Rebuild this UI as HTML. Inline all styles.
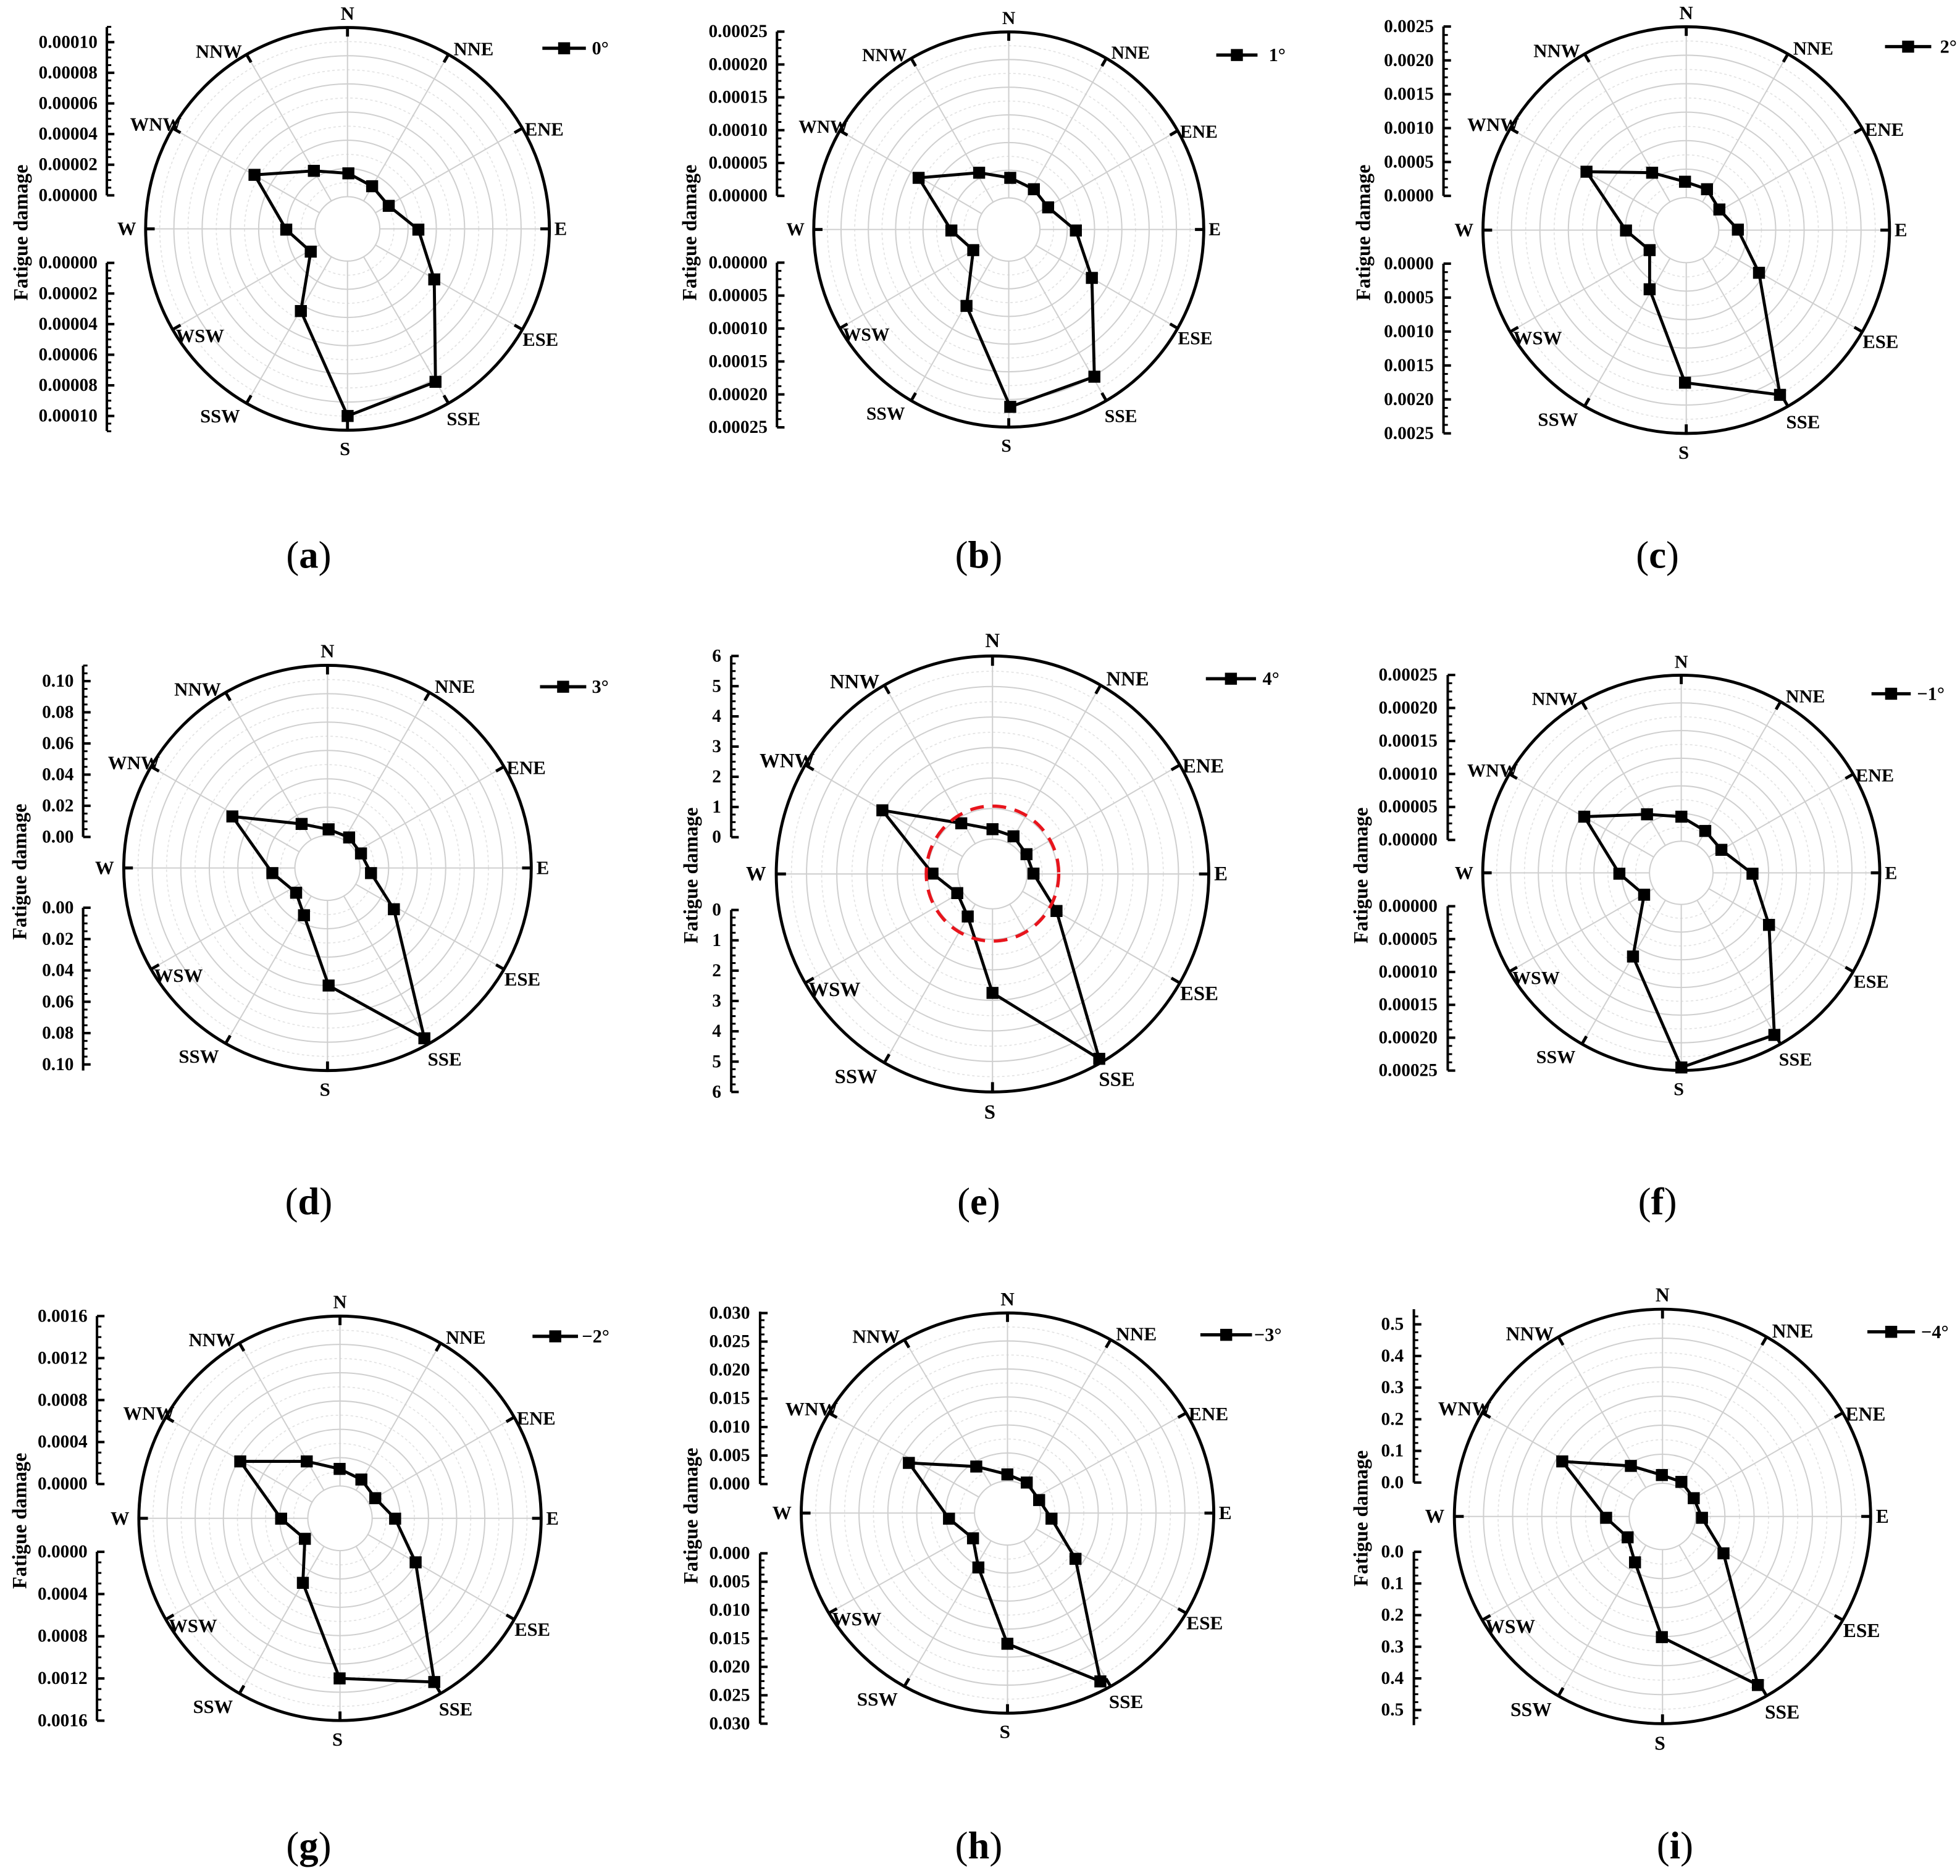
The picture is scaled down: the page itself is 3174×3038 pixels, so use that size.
<!DOCTYPE html>
<html><head><meta charset="utf-8">
<style>
html,body{margin:0;padding:0;background:#fff;}
svg{display:block;}
text{font-family:"Liberation Serif",serif;font-weight:bold;fill:#000;}
.dl text{font-size:15px;text-anchor:middle;dominant-baseline:central;}
.tk{font-size:14.5px;text-anchor:end;dominant-baseline:central;}
.lg{font-size:15px;dominant-baseline:central;}
.cap{font-size:31px;font-weight:normal;text-anchor:middle;}
.yl{font-size:16px;text-anchor:middle;dominant-baseline:central;}
</style></head>
<body>
<svg id="s" xmlns="http://www.w3.org/2000/svg" width="3174" height="3038" viewBox="0 0 1568 1500" preserveAspectRatio="none">
<rect width="1568" height="1500" fill="#fff"/>
<g id="geo"></g>

<!-- Direction labels -->
<g class="dl" transform="translate(278,183) scale(1.009,1.006)"><text x="0" y="-171">N</text><text x="100" y="-143">NNE</text><text x="156" y="-79">ENE</text><text x="169" y="0">E</text><text x="153" y="88">ESE</text><text x="92" y="151">SSE</text><text x="-2" y="175">S</text><text x="-101" y="149">SSW</text><text x="-117" y="85">WSW</text><text x="-175" y="0">W</text><text x="-152" y="-83">WNW</text><text x="-102" y="-141">NNW</text></g>
<g class="dl" transform="translate(807,183.5) scale(0.975,0.988)"><text x="0" y="-171">N</text><text x="100" y="-143">NNE</text><text x="156" y="-79">ENE</text><text x="169" y="0">E</text><text x="153" y="88">ESE</text><text x="92" y="151">SSE</text><text x="-2" y="175">S</text><text x="-101" y="149">SSW</text><text x="-117" y="85">WSW</text><text x="-175" y="0">W</text><text x="-152" y="-83">WNW</text><text x="-102" y="-141">NNW</text></g>
<g class="dl" transform="translate(1349,184) scale(1.016,1.016)"><text x="0" y="-171">N</text><text x="100" y="-143">NNE</text><text x="156" y="-79">ENE</text><text x="169" y="0">E</text><text x="153" y="88">ESE</text><text x="92" y="151">SSE</text><text x="-2" y="175">S</text><text x="-101" y="149">SSW</text><text x="-117" y="85">WSW</text><text x="-175" y="0">W</text><text x="-152" y="-83">WNW</text><text x="-102" y="-141">NNW</text></g>
<g class="dl" transform="translate(262,694) scale(1.019,1.013)"><text x="0" y="-171">N</text><text x="100" y="-143">NNE</text><text x="156" y="-79">ENE</text><text x="169" y="0">E</text><text x="153" y="88">ESE</text><text x="92" y="151">SSE</text><text x="-2" y="175">S</text><text x="-101" y="149">SSW</text><text x="-117" y="85">WSW</text><text x="-175" y="0">W</text><text x="-152" y="-83">WNW</text><text x="-102" y="-141">NNW</text></g>
<g class="dl" transform="translate(794,698.8) scale(1.081,1.089)"><text x="0" y="-171">N</text><text x="100" y="-143">NNE</text><text x="156" y="-79">ENE</text><text x="169" y="0">E</text><text x="153" y="88">ESE</text><text x="92" y="151">SSE</text><text x="-2" y="175">S</text><text x="-101" y="149">SSW</text><text x="-117" y="85">WSW</text><text x="-175" y="0">W</text><text x="-152" y="-83">WNW</text><text x="-102" y="-141">NNW</text></g>
<g class="dl" transform="translate(1345,697.9) scale(0.993,0.988)"><text x="0" y="-171">N</text><text x="100" y="-143">NNE</text><text x="156" y="-79">ENE</text><text x="169" y="0">E</text><text x="153" y="88">ESE</text><text x="92" y="151">SSE</text><text x="-2" y="175">S</text><text x="-101" y="149">SSW</text><text x="-117" y="85">WSW</text><text x="-175" y="0">W</text><text x="-152" y="-83">WNW</text><text x="-102" y="-141">NNW</text></g>
<g class="dl" transform="translate(272,1214) scale(1.006,1.011)"><text x="0" y="-171">N</text><text x="100" y="-143">NNE</text><text x="156" y="-79">ENE</text><text x="169" y="0">E</text><text x="153" y="88">ESE</text><text x="92" y="151">SSE</text><text x="-2" y="175">S</text><text x="-101" y="149">SSW</text><text x="-117" y="85">WSW</text><text x="-175" y="0">W</text><text x="-152" y="-83">WNW</text><text x="-102" y="-141">NNW</text></g>
<g class="dl" transform="translate(806,1209.8) scale(1.031,1.0)"><text x="0" y="-171">N</text><text x="100" y="-143">NNE</text><text x="156" y="-79">ENE</text><text x="169" y="0">E</text><text x="153" y="88">ESE</text><text x="92" y="151">SSE</text><text x="-2" y="175">S</text><text x="-101" y="149">SSW</text><text x="-117" y="85">WSW</text><text x="-175" y="0">W</text><text x="-152" y="-83">WNW</text><text x="-102" y="-141">NNW</text></g>
<g class="dl" transform="translate(1330,1212.5) scale(1.041,1.036)"><text x="0" y="-171">N</text><text x="100" y="-143">NNE</text><text x="156" y="-79">ENE</text><text x="169" y="0">E</text><text x="153" y="88">ESE</text><text x="92" y="151">SSE</text><text x="-2" y="175">S</text><text x="-101" y="149">SSW</text><text x="-117" y="85">WSW</text><text x="-175" y="0">W</text><text x="-152" y="-83">WNW</text><text x="-102" y="-141">NNW</text></g>

<!-- Tick labels -->
<g class="tk">
<!-- a -->
<text x="78" y="33.7">0.00010</text><text x="78" y="58.2">0.00008</text><text x="78" y="82.7">0.00006</text><text x="78" y="107.2">0.00004</text><text x="78" y="131.7">0.00002</text><text x="78" y="156.2">0.00000</text>
<text x="78" y="210.2">0.00000</text><text x="78" y="234.7">0.00002</text><text x="78" y="259.2">0.00004</text><text x="78" y="283.6">0.00006</text><text x="78" y="308.1">0.00008</text><text x="78" y="332.6">0.00010</text>
<!-- b -->
<text x="614" y="25.3">0.00025</text><text x="614" y="51.6">0.00020</text><text x="614" y="77.8">0.00015</text><text x="614" y="104.1">0.00010</text><text x="614" y="130.3">0.00005</text><text x="614" y="156.6">0.00000</text>
<text x="614" y="210">0.00000</text><text x="614" y="236.3">0.00005</text><text x="614" y="262.7">0.00010</text><text x="614" y="289">0.00015</text><text x="614" y="315.4">0.00020</text><text x="614" y="341.7">0.00025</text>
<!-- c -->
<text x="1147" y="21.2">0.0025</text><text x="1147" y="48.3">0.0020</text><text x="1147" y="75.4">0.0015</text><text x="1147" y="102.4">0.0010</text><text x="1147" y="129.5">0.0005</text><text x="1147" y="156.6">0.0000</text>
<text x="1147" y="210.8">0.0000</text><text x="1147" y="237.9">0.0005</text><text x="1147" y="265.1">0.0010</text><text x="1147" y="292.2">0.0015</text><text x="1147" y="319.4">0.0020</text><text x="1147" y="346.5">0.0025</text>
<!-- d -->
<text x="59" y="544.6">0.10</text><text x="59" y="569.5">0.08</text><text x="59" y="594.4">0.06</text><text x="59" y="619.4">0.04</text><text x="59" y="644.3">0.02</text><text x="59" y="669.2">0.00</text>
<text x="59" y="725.8">0.00</text><text x="59" y="750.9">0.02</text><text x="59" y="775.9">0.04</text><text x="59" y="801">0.06</text><text x="59" y="826">0.08</text><text x="59" y="851.1">0.10</text>
<!-- e -->
<text x="577" y="524.5">6</text><text x="577" y="548.7">5</text><text x="577" y="572.8">4</text><text x="577" y="597">3</text><text x="577" y="621.1">2</text><text x="577" y="645.3">1</text><text x="577" y="669.4">0</text>
<text x="577" y="727.6">0</text><text x="577" y="751.9">1</text><text x="577" y="776.1">2</text><text x="577" y="800.4">3</text><text x="577" y="824.6">4</text><text x="577" y="848.9">5</text><text x="577" y="873.1">6</text>
<!-- f -->
<text x="1150" y="539.7">0.00025</text><text x="1150" y="566.1">0.00020</text><text x="1150" y="592.5">0.00015</text><text x="1150" y="618.8">0.00010</text><text x="1150" y="645.2">0.00005</text><text x="1150" y="671.6">0.00000</text>
<text x="1150" y="724.6">0.00000</text><text x="1150" y="750.9">0.00005</text><text x="1150" y="777.2">0.00010</text><text x="1150" y="803.4">0.00015</text><text x="1150" y="829.7">0.00020</text><text x="1150" y="856">0.00025</text>
<!-- g -->
<text x="70" y="1052.3">0.0016</text><text x="70" y="1085.9">0.0012</text><text x="70" y="1119.5">0.0008</text><text x="70" y="1153">0.0004</text><text x="70" y="1186.6">0.0000</text>
<text x="70" y="1240.8">0.0000</text><text x="70" y="1274.6">0.0004</text><text x="70" y="1308.3">0.0008</text><text x="70" y="1342.1">0.0012</text><text x="70" y="1375.8">0.0016</text>
<!-- h -->
<text x="600" y="1049.9">0.030</text><text x="600" y="1072.7">0.025</text><text x="600" y="1095.5">0.020</text><text x="600" y="1118.2">0.015</text><text x="600" y="1141">0.010</text><text x="600" y="1163.8">0.005</text><text x="600" y="1186.6">0.000</text>
<text x="600" y="1242">0.000</text><text x="600" y="1264.7">0.005</text><text x="600" y="1287.4">0.010</text><text x="600" y="1310.1">0.015</text><text x="600" y="1332.8">0.020</text><text x="600" y="1355.5">0.025</text><text x="600" y="1378.2">0.030</text>
<!-- i -->
<text x="1123" y="1058.9">0.5</text><text x="1123" y="1084.2">0.4</text><text x="1123" y="1109.5">0.3</text><text x="1123" y="1134.8">0.2</text><text x="1123" y="1160.1">0.1</text><text x="1123" y="1185.4">0.0</text>
<text x="1123" y="1240.8">0.0</text><text x="1123" y="1266.1">0.1</text><text x="1123" y="1291.4">0.2</text><text x="1123" y="1316.7">0.3</text><text x="1123" y="1342">0.4</text><text x="1123" y="1367.3">0.5</text>
</g>

<!-- Y axis titles -->
<text class="yl" transform="translate(17,186) rotate(-90)">Fatigue damage</text>
<text class="yl" transform="translate(552,186) rotate(-90)">Fatigue damage</text>
<text class="yl" transform="translate(1091,186) rotate(-90)">Fatigue damage</text>
<text class="yl" transform="translate(16,697) rotate(-90)">Fatigue damage</text>
<text class="yl" transform="translate(553,700) rotate(-90)">Fatigue damage</text>
<text class="yl" transform="translate(1089,700) rotate(-90)">Fatigue damage</text>
<text class="yl" transform="translate(16,1216) rotate(-90)">Fatigue damage</text>
<text class="yl" transform="translate(553,1212) rotate(-90)">Fatigue damage</text>
<text class="yl" transform="translate(1089,1214) rotate(-90)">Fatigue damage</text>

<!-- Legends text -->
<text class="lg" x="473.5" y="38.6">0°</text>
<text class="lg" x="1015" y="44">1°</text>
<text class="lg" x="1552" y="37.3">2°</text>
<text class="lg" x="473.5" y="549.1">3°</text>
<text class="lg" x="1010" y="542.7">4°</text>
<text class="lg" x="1533.6" y="554.7">−1°</text>
<text class="lg" x="465.5" y="1068.5">−2°</text>
<text class="lg" x="1003.3" y="1067.3">−3°</text>
<text class="lg" x="1536.9" y="1064.9">−4°</text>

<!-- Captions -->
<text class="cap" x="247" y="454">(<tspan font-weight="bold">a</tspan>)</text>
<text class="cap" x="783" y="454">(<tspan font-weight="bold">b</tspan>)</text>
<text class="cap" x="1326" y="454">(<tspan font-weight="bold">c</tspan>)</text>
<text class="cap" x="247" y="971">(<tspan font-weight="bold">d</tspan>)</text>
<text class="cap" x="783" y="971">(<tspan font-weight="bold">e</tspan>)</text>
<text class="cap" x="1326" y="971">(<tspan font-weight="bold">f</tspan>)</text>
<text class="cap" x="247" y="1486">(<tspan font-weight="bold">g</tspan>)</text>
<text class="cap" x="783" y="1486">(<tspan font-weight="bold">h</tspan>)</text>
<text class="cap" x="1340" y="1486">(<tspan font-weight="bold">i</tspan>)</text>
</svg>
<script>
(function(){
var NS='http://www.w3.org/2000/svg';
var G=document.getElementById('geo');
function el(t,a,p){var e=document.createElementNS(NS,t);for(var k in a)e.setAttribute(k,a[k]);(p||G).appendChild(e);return e;}
var P=[
{cx:278,cy:183,rx:161.5,ry:161,ax:85.5,up:[21.7,33.7,156.2,5],lo:[210.2,332.6,344.6,5],leg:[433.9,468.7,38.6],
pts:[[278.7,138.6],[297.7,148.9],[311,164.6],[334.7,183.6],[347.4,223.4],[348.4,305.3],[278.1,332.6],[240.7,248.7],[248.6,201.2],[229,183.6],[203.6,139.8],[251.1,136.6]]},
{cx:807,cy:183.5,rx:156,ry:158,ax:621.6,up:[25.3,25.3,156.6,5],lo:[210,341.7,341.7,5],leg:[973,1006,44],
pts:[[808.2,142.2],[827.1,151.3],[838.5,165.8],[860.7,184.3],[873.5,222.2],[875.5,301.2],[808.2,325.3],[773.2,244.6],[778.6,200],[761.1,184.3],[734.9,142.2],[783.3,138.1]]},
{cx:1349,cy:184,rx:162.6,ry:162.6,ax:1154.8,up:[21.2,21.2,156.6,5],lo:[210.8,346.5,346.5,5],leg:[1508,1545,37.3],
pts:[[1348,145.3],[1365.6,151.3],[1375.5,167.5],[1390.3,183.6],[1407.2,218.1],[1424,315.7],[1348,306],[1319.7,231.3],[1319.7,200],[1300.8,184.3],[1269.2,137.3],[1321.7,138.1]]},
{cx:262,cy:694,rx:163,ry:162,ax:66.5,up:[532.3,544.6,669.2,5],lo:[725.8,851.1,856,5],leg:[432,469,549.1],
pts:[[262.9,663.1],[279.3,669.6],[288.8,682.4],[296.8,698.1],[315.1,727],[339.5,830.2],[262.9,788],[243.2,731.8],[236.9,713.8],[217.9,698.1],[185.9,652.8],[241.3,658.8]]},
{cx:794,cy:698.8,rx:173,ry:174.3,ax:585,up:[524.5,524.5,669.4,6],lo:[727.6,873.1,873.1,6],leg:[964.7,1004.8,542.7],
pts:[[794,663],[810.8,668.7],[821.2,683],[826.8,698.5],[845.2,728.4],[879.4,846.6],[794,793.9],[774.2,732.8],[765.8,714.1],[746,698.5],[705.9,647.9],[769,658.3]]},
{cx:1345,cy:697.9,rx:158.8,ry:158,ax:1158.2,up:[539.7,539.7,671.6,5],lo:[724.6,856,856,5],leg:[1497.2,1528.6,554.7],
pts:[[1345.1,653],[1364.2,664.4],[1377.1,679.5],[1402,698.6],[1415.2,739.5],[1419.5,827.5],[1345.1,853.5],[1306.4,764.8],[1315.3,715.4],[1295.5,698.6],[1267.4,653],[1317.6,651.1]]},
{cx:272,cy:1214,rx:160.9,ry:161.7,ax:77.6,up:[1052.3,1052.3,1186.6,4],lo:[1240.8,1375.8,1375.8,4],leg:[426,462.4,1068.5],
pts:[[271.7,1174.5],[289.1,1183],[300.2,1197.9],[316.1,1214.3],[332.5,1249.2],[347.4,1344.9],[271.7,1342],[242.3,1265.6],[243.9,1230.4],[224.9,1214.3],[192.2,1168.5],[245.4,1168.5]]},
{cx:806,cy:1209.8,rx:165,ry:160,ax:608.1,up:[1048.7,1049.9,1186.6,6],lo:[1242,1378.2,1378.2,6],leg:[960.3,1001.6,1067.3],
pts:[[805.9,1178.9],[821.4,1185.4],[831.3,1199.4],[841.2,1214.3],[860.4,1246.4],[880.3,1344.4],[805.9,1314.3],[782.7,1253.3],[778.4,1230],[759.2,1214.3],[727.1,1169.7],[781,1172.6]]},
{cx:1330,cy:1212.5,rx:166.5,ry:165.7,ax:1131.1,up:[1046.8,1058.9,1185.4,5],lo:[1240.8,1367.3,1379.4,5],leg:[1493.9,1532,1064.9],
pts:[[1329.5,1179.4],[1345.1,1184.9],[1355,1197.9],[1361.6,1213.6],[1378.8,1242],[1406.3,1347.3],[1329.5,1309],[1308,1249.2],[1302.1,1229.2],[1284.9,1213.6],[1249.8,1168.5],[1304.7,1172.1]]}
];
P.forEach(function(p){
  var h=0.16;
  // rings
  for(var k=1;k<12;k++){
    var f=h+0.07*k;
    el('ellipse',{cx:p.cx,cy:p.cy,rx:p.rx*f,ry:p.ry*f,fill:'none',stroke:k%2?'#e2e2e2':'#cfcfcf','stroke-width':k%2?0.8:1,'stroke-dasharray':k%2?'2 2':'none'});
  }
  el('ellipse',{cx:p.cx,cy:p.cy,rx:p.rx*h,ry:p.ry*h,fill:'none',stroke:'#cfcfcf','stroke-width':1});
  for(var i=0;i<12;i++){
    var a=i*Math.PI/6,s=Math.sin(a),c=-Math.cos(a);
    el('line',{x1:p.cx+s*p.rx*h,y1:p.cy+c*p.ry*h,x2:p.cx+s*p.rx,y2:p.cy+c*p.ry,stroke:'#cfcfcf','stroke-width':1});
  }
  el('ellipse',{cx:p.cx,cy:p.cy,rx:p.rx,ry:p.ry,fill:'none',stroke:'#000','stroke-width':2.4});
  for(var i=0;i<12;i++){
    var a=i*Math.PI/6,s=Math.sin(a),c=-Math.cos(a);
    el('line',{x1:p.cx+s*p.rx*0.955,y1:p.cy+c*p.ry*0.955,x2:p.cx+s*p.rx,y2:p.cy+c*p.ry,stroke:'#000','stroke-width':2.4});
  }
  // axes
  function axis(top,bot,y0,y1,n,dir){
    el('line',{x1:p.ax,y1:top,x2:p.ax,y2:bot,stroke:'#000','stroke-width':2});
    var st=(y1-y0)/n/4;
    var yy=y0;
    // go from y0 in both directions covering [top,bot]
    var start=y0; while(start-Math.abs(st)>=Math.min(top,bot)-0.3) start-=Math.abs(st);
    var idx=Math.round((y0-start)/Math.abs(st));
    for(var y=start,j=-idx;y<=Math.max(top,bot)+0.3;y+=Math.abs(st),j++){
      var major=((j%4)+4)%4==0;
      el('line',{x1:p.ax,y1:y,x2:p.ax+(major?6:3.5),y2:y,stroke:'#000','stroke-width':major?2:1.5});
    }
  }
  axis(p.up[0],p.up[2],p.up[1],p.up[2],p.up[3]);
  axis(p.lo[0],p.lo[2],p.lo[0],p.lo[1],p.lo[3]);
  // series
  var pts=p.pts.concat([p.pts[0]]).map(function(q){return q[0]+','+q[1];}).join(' ');
  el('polyline',{points:pts,fill:'none',stroke:'#000','stroke-width':2.4,'stroke-linejoin':'round'});
  p.pts.forEach(function(q){el('rect',{x:q[0]-4.8,y:q[1]-4.8,width:9.6,height:9.6,fill:'#000'});});
  // legend
  el('line',{x1:p.leg[0],y1:p.leg[2],x2:p.leg[1],y2:p.leg[2],stroke:'#000','stroke-width':2.6});
  var mx=(p.leg[0]+p.leg[1])/2;
  el('rect',{x:mx-4.8,y:p.leg[2]-4.8,width:9.6,height:9.6,fill:'#000'});
});
// red dashed circle in (e)
el('ellipse',{cx:794,cy:698.5,rx:53,ry:54,fill:'none',stroke:'#e8141c','stroke-width':2.6,'stroke-dasharray':'11 7'});
})();
</script>
</body></html>
